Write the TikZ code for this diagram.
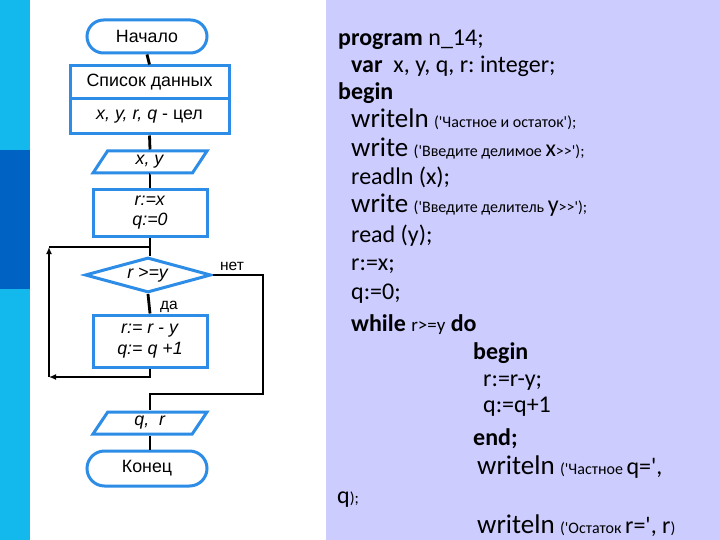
\documentclass[tikz,border=0pt]{standalone}
\usepackage{fontspec}
\setmainfont{Liberation Sans}
\newfontfamily\codefont{Carlito}[Ligatures=TeXOff]
\usetikzlibrary{shapes.geometric,arrows.meta}
\definecolor{stripL}{RGB}{19,184,236}
\definecolor{stripD}{RGB}{0,99,196}
\definecolor{panelc}{RGB}{204,204,255}
\definecolor{fbl}{RGB}{44,140,230}
\newcommand\csm[1]{{\fontsize{16}{16}\selectfont #1}}
\newcommand\cwr[1]{{\fontsize{27}{27}\selectfont #1}}
\newcommand\flowfont{\fontsize{17.8}{20}\selectfont}
\begin{document}
\begin{tikzpicture}[x=1pt,y=-1pt,
  fbox/.style={draw=fbl, line width=3pt, fill=white, inner sep=0pt, align=center, font=\flowfont},
  term/.style={fbox, rectangle, rounded corners=16.5pt, minimum width=120pt, minimum height=33pt},
  rbox/.style={fbox, rectangle, minimum width=114pt},
  para/.style={fbox, trapezium, trapezium left angle=42, trapezium right angle=138,
     trapezium stretches body, minimum width=114pt, minimum height=22pt},
  cond/.style={fbox, diamond, aspect=3.6, minimum width=126pt, minimum height=35pt},
  conn/.style={draw=black, line width=2.8pt},
  arr/.style={conn, -{Latex[length=7pt,width=6pt]}},
  lbl/.style={inner sep=0pt, font=\fontsize{15.5}{15.5}\selectfont},
  code/.style={anchor=base west, inner sep=0pt, font=\codefont\frenchspacing\fontsize{24}{24}\selectfont}
]
\useasboundingbox (0,0) rectangle (720,540);
\fill[white] (0,0) rectangle (720,540);
\fill[stripL] (0,0) rectangle (30,540);
\fill[stripD] (0,150) rectangle (30,289);
\fill[panelc] (326,0) rectangle (720,540);

% flowchart nodes
\node[term] (start) at (147,36.5) {Начало};
\node[fbox, rectangle, minimum width=159pt, minimum height=33pt] (list1) at (149.5,82.5) {Список данных};
\node[fbox, rectangle, minimum width=159pt, minimum height=35pt] (list2) at (149.5,116.5) {\textit{x, y, r, q} - цел};
\node[para] (in) at (150,162) {\textit{x, y}};
\node[rbox, minimum height=46pt] (init) at (150,213) {\textit{r:=x}\\\textit{q:=0}};
\node[cond] (test) at (148,275) {\textit{r >=y}};
\node[rbox, minimum height=52pt] (body) at (150,341) {\textit{r:= r - y}\\[1pt]\textit{q:= q +1}};
\node[para] (out) at (150,423) {\textit{q,\ \ r}};
\node[term, minimum height=35pt, rounded corners=17.5pt] (stop) at (147,468.5) {Конец};

\node[lbl] (yes) at (169,307) {да};
\node[lbl] (no) at (232,266) {нет};

\coordinate (lt) at (49,247);
\coordinate (lb) at (49,377);
\coordinate (rb) at (263,394);

% connectors
\draw[conn] (start.south) -- (list1.north);
\draw[conn] (list2.south) -- (in.north);
\draw[conn] (in.south) -- (init.south |- in.south) -- (init.north);
\draw[conn] (init.south) -- (init.south |- test.north);
\draw[conn] (test.south) -- (body.north);
\draw[arr] (body.south) |- (lb);
\draw[arr] (lb) -- (lt);
\draw[conn] (lt) -- (lt -| init.south);
\draw[conn] (test.east) -| (rb) -- (rb -| out.north) -- (out.north);
\draw[conn] (out.south) -- (out.south |- stop.north);

% code
\node[code] (c1) at (338,46) {\textbf{program} n\_14;};
\node[code] (c2) at (351,73) {\textbf{var}\ \ x, y, q, r: integer;};
\node[code] (c3) at (338,100) {\textbf{begin}};
\node[code] (c4) at (351,128) {\cwr{writeln} \csm{('Частное и остаток');}};
\node[code] (c5) at (351,157) {\cwr{write} \csm{('Введите делимое }x\csm{>>');}};
\node[code] (c6) at (351,185) {readln (x);};
\node[code] (c7) at (351,213) {\cwr{write} \csm{('Введите делитель }y\csm{>>');}};
\node[code] (c8) at (351,242) {read (y);};
\node[code] (c9) at (351,270) {r:=x;};
\node[code] (c10) at (351,299) {q:=0;};
\node[code] (c11) at (351,331) {\textbf{while} {\fontsize{19}{19}\selectfont r>=y} \textbf{do}};
\node[code] (c12) at (473,359) {\textbf{begin}};
\node[code] (c13) at (483,386) {r:=r-y;};
\node[code] (c14) at (483,412) {q:=q+1};
\node[code] (c15) at (473,445) {\textbf{end;}};
\node[code] (c16) at (477,474) {\cwr{writeln} \csm{('Частное }q=',};
\node[code] (c17) at (337,503) {q\csm{);}};
\node[code] (c18) at (477,533) {\cwr{writeln} \csm{('Остаток }r=', r\csm{)}};
\end{tikzpicture}
\end{document}
